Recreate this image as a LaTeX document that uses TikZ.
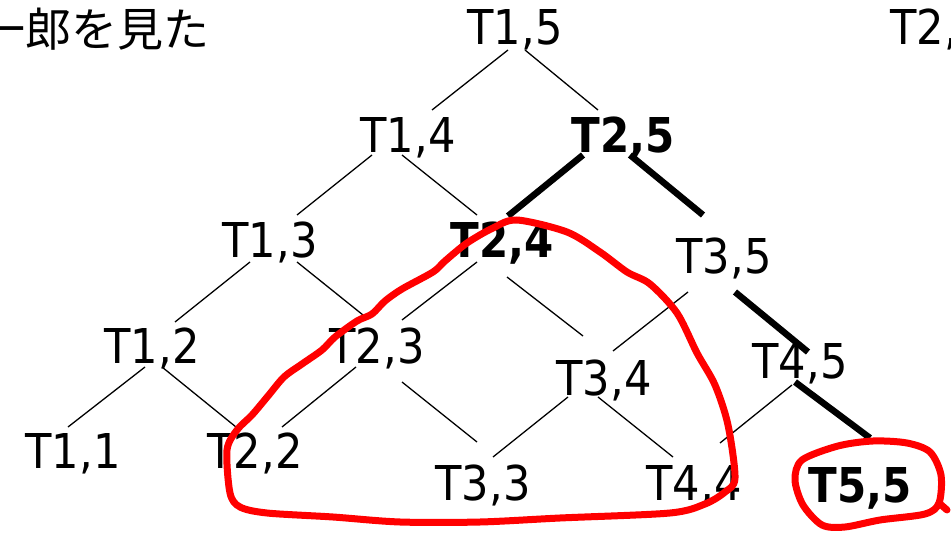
\documentclass[tikz,border=0pt]{standalone}
\usepackage{fontspec}
\setmainfont{DejaVu Sans}[FakeStretch=0.9,BoldFeatures={FakeStretch=0.875}]
\newfontfamily\cjkfont{Noto Sans CJK JP}
\begin{document}
\begin{tikzpicture}[x=1pt,y=-1pt,
  lbl/.style={font=\fontsize{48}{58}\selectfont, inner sep=0pt, text height=35pt, text depth=0pt, anchor=center},
  blbl/.style={lbl, font=\fontsize{48}{58}\selectfont\bfseries},
  thinedge/.style={line width=1.3pt},
  boldedge/.style={line width=6.5pt},
  redloop/.style={draw=red, line width=7pt, line join=round, line cap=round}]
\useasboundingbox (0,0) rectangle (951,540);
\clip (0,0) rectangle (951,540);
% header texts
\node[inner sep=0pt, anchor=base west, font=\cjkfont\fontsize{46}{55}\selectfont] (title) at (-21,47) {一郎を見た};
\node[inner sep=0pt, anchor=base west, font=\fontsize{48}{58}\selectfont] (right) at (890,45) {T2,5};
% nodes
\node[lbl]  (t15) at (515,27.5) {T1,5};
\node[lbl]  (t14) at (408,135) {T1,4};
\node[blbl] (t25) at (623,135) {T2,5};
\node[lbl]  (t13) at (270,240.5) {T1,3};
\node[blbl] (t24) at (502,240.5) {T2,4};
\node[lbl]  (t35) at (724,255.5) {T3,5};
\node[lbl]  (t12) at (152,346) {T1,2};
\node[lbl]  (t23) at (377,346) {T2,3};
\node[lbl]  (t34) at (604,377.5) {T3,4};
\node[lbl]  (t45) at (800,361) {T4,5};
\node[lbl]  (t11) at (73,451) {T1,1};
\node[lbl]  (t22) at (255,451) {T2,2};
\node[lbl]  (t33) at (483,482.5) {T3,3};
\node[lbl]  (t44) at (694,482.5) {T4,4};
\node[blbl] (t55) at (860,484.5) {T5,5};
% thin edges
\draw[thinedge] ([shift={(-7,22.5)}]t15.center) -- ([shift={(24,-25)}]t14.center);
\draw[thinedge] ([shift={(10,22.5)}]t15.center) -- ([shift={(-25,-25)}]t25.center);
\draw[thinedge] ([shift={(-36,20)}]t14.center) -- ([shift={(27,-25.5)}]t13.center);
\draw[thinedge] ([shift={(-6,20)}]t14.center) -- ([shift={(-25,-25.5)}]t24.center);
\draw[thinedge] ([shift={(-20,21.5)}]t13.center) -- ([shift={(23,-24)}]t12.center);
\draw[thinedge] ([shift={(27,21.5)}]t13.center) -- ([shift={(-14,-31)}]t23.center);
\draw[thinedge] ([shift={(-25,21.5)}]t24.center) -- ([shift={(25,-26)}]t23.center);
\draw[thinedge] ([shift={(5,36.5)}]t24.center) -- ([shift={(-21,-41.5)}]t34.center);
\draw[thinedge] ([shift={(-36,36.5)}]t35.center) -- ([shift={(9,-26.5)}]t34.center);
\draw[thinedge] ([shift={(-7,21)}]t12.center) -- ([shift={(-5,-24)}]t11.center);
\draw[thinedge] ([shift={(10,21)}]t12.center) -- ([shift={(-19,-24)}]t22.center);
\draw[thinedge] ([shift={(-21,21)}]t23.center) -- ([shift={(27,-24)}]t22.center);
\draw[thinedge] ([shift={(25,36)}]t23.center) -- ([shift={(-6,-40.5)}]t33.center);
\draw[thinedge] ([shift={(-36,19.5)}]t34.center) -- ([shift={(10,-25.5)}]t33.center);
\draw[thinedge] ([shift={(-6,19.5)}]t34.center) -- ([shift={(-21,-25.5)}]t44.center);
\draw[thinedge] ([shift={(-8,24)}]t45.center) -- ([shift={(26,-39.5)}]t44.center);
% bold edges
\draw[boldedge] ([shift={(-40,20)}]t25.center) -- ([shift={(6,-24.5)}]t24.center);
\draw[boldedge] ([shift={(7,20)}]t25.center) -- ([shift={(-21,-40.5)}]t35.center);
\draw[boldedge] ([shift={(11,36.5)}]t35.center) -- ([shift={(8,-9)}]t45.center);
\draw[boldedge] ([shift={(-5,21)}]t45.center) -- ([shift={(10,-46.5)}]t55.center);
% red hand-drawn loops
\draw[redloop] plot[smooth cycle, tension=0.5] coordinates {
  (517,220) (567,232) (600,252) (627,272) (650,284) (677,313) (697,353)
  (715,385) (728,425) (735,478) (725,492) (705,504) (670,513) (560,518)
  (480,522) (400,522) (333,517) (267,513) (240,507) (230,493) (227,450)
  (237,430) (252,415) (268,396) (284,377) (302,364) (322,350) (335,337)
  (357,321) (372,314) (385,301) (402,289) (433,272) (445,261) (467,243) (493,228)};
\draw[redloop] plot[smooth cycle, tension=0.5] coordinates {
  (802,460) (838,446) (873,441) (907,443) (930,452) (941,475) (939,503)
  (925,514) (880,520) (845,527) (822,525) (803,505) (795,480)};
\draw[redloop] (939,503) -- (947,510);
\end{tikzpicture}
\end{document}
